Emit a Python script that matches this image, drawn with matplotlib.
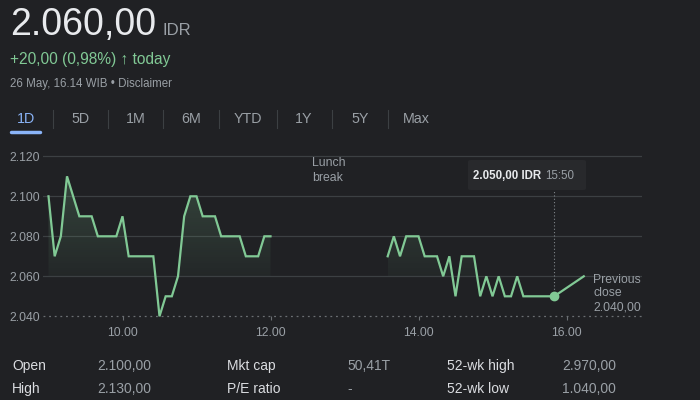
import numpy as np
import matplotlib.pyplot as plt
from matplotlib.lines import Line2D
from matplotlib.patches import FancyBboxPatch
from matplotlib.colors import LinearSegmentedColormap

plt.rcParams['font.family'] = ['Liberation Sans', 'DejaVu Sans']

BG = '#202124'
GREEN = '#81c995'
GRAY = '#9aa0a6'
LIGHT = '#e8eaed'
GRID = '#3c4043'

# intraday prices (IDR)
morning_times = ["09:00", "09:05", "09:10", "09:15", "09:25", "09:35", "09:40", "09:55",
                 "10:00", "10:05", "10:25", "10:30", "10:35", "10:40", "10:45", "10:50",
                 "10:55", "11:00", "11:05", "11:15", "11:20", "11:35", "11:40", "11:50",
                 "11:55", "12:00"]
morning_prices = [2100, 2070, 2080, 2110, 2090, 2090, 2080, 2080,
                  2090, 2070, 2070, 2040, 2050, 2050, 2060, 2090,
                  2100, 2100, 2090, 2090, 2080, 2080, 2070, 2070,
                  2080, 2080]
afternoon_times = ["13:35", "13:40", "13:45", "13:50", "14:00", "14:05", "14:15", "14:20",
                   "14:25", "14:30", "14:35", "14:45", "14:50", "14:55", "15:00", "15:05",
                   "15:10", "15:15", "15:20", "15:25", "15:50", "16:14"]
afternoon_prices = [2070, 2080, 2070, 2080, 2080, 2070, 2070, 2060,
                    2070, 2050, 2070, 2070, 2050, 2060, 2050, 2060,
                    2050, 2050, 2060, 2050, 2050, 2060]
prev_close = 2040
hover_time = "15:50"
hover_price = 2050

y_ticks = [2040, 2060, 2080, 2100, 2120]
y_labels = ["2.040", "2.060", "2.080", "2.100", "2.120"]
x_ticks = [10, 12, 14, 16]
x_labels = ["10.00", "12.00", "14.00", "16.00"]

tabs = ["1D", "5D", "1M", "6M", "YTD", "1Y", "5Y", "Max"]

stats_left = [("Open", "2.100,00"), ("High", "2.130,00")]
stats_mid = [("Mkt cap", "50,41T"), ("P/E ratio", "-")]
stats_right = [("52-wk high", "2.970,00"), ("52-wk low", "1.040,00")]


def hours(ts):
    return np.array([int(t[:2]) + int(t[3:]) / 60 for t in ts])


def px(x, y):
    return x / 700, 1 - y / 400


fig = plt.figure(figsize=(7, 4), dpi=100, facecolor=BG)

# header
fig.text(*px(10, 35), "2.060,00", color=LIGHT, fontsize=27, va='baseline')
fig.text(*px(163, 35), "IDR", color=GRAY, fontsize=12, va='baseline')
fig.text(*px(10, 64), "+20,00 (0,98%) \u2191 today", color=GREEN, fontsize=11.2, va='baseline')
fig.text(*px(10, 87), "26 May, 16.14 WIB \u2022 Disclaimer", color=GRAY, fontsize=8.3, va='baseline')

tab_x = [26, 80, 136, 191, 248, 304, 360, 416]
for i, (t, x) in enumerate(zip(tabs, tab_x)):
    fig.text(*px(x, 119), t, color='#8ab4f8' if i == 0 else GRAY, fontsize=10.3,
             ha='center', va='center')
for sx in [53, 108, 163, 219, 277, 332, 388]:
    fig.add_artist(Line2D([sx / 700, sx / 700], [1 - 110 / 400, 1 - 128 / 400],
                          color=GRID, lw=0.8))
fig.add_artist(Line2D([11 / 700, 40 / 700], [1 - 132 / 400] * 2, color='#8ab4f8',
                      lw=2.5, solid_capstyle='round'))

# chart
ax = fig.add_axes([43 / 700, 1 - 322 / 400, (642 - 43) / 700, (322 - 150) / 400])
ax.set_facecolor(BG)

for yt in y_ticks[1:]:
    ax.axhline(yt, color=GRID, lw=0.9, zorder=1)
ax.axhline(prev_close, color='#6b6f73', lw=0.9, ls=(0, (1.5, 3)), zorder=1)

grad = np.linspace(0, 1, 256).reshape(-1, 1)
cmap = LinearSegmentedColormap.from_list(
    'g', [(0.506, 0.788, 0.584, 0.04), (0.506, 0.788, 0.584, 0.22)])
for ts, ps in [(morning_times, morning_prices), (afternoon_times, afternoon_prices)]:
    x = hours(ts)
    y = np.array(ps)
    ax.plot(x, y, color=GREEN, lw=1.6, zorder=3, solid_joinstyle='miter')
    poly = ax.fill_between(x, y, 2060, color='none', lw=0)
    im = ax.imshow(grad, extent=[x.min(), x.max(), 2060, 2110], origin='lower',
                   cmap=cmap, aspect='auto', zorder=2)
    im.set_clip_path(poly.get_paths()[0], transform=ax.transData)

ax.set_xlim(8.9257, 17.02)
ax.set_ylim(2037.15, 2123.15)

hx = hours([hover_time])[0]
ax.plot([hx, hx], [hover_price, 2118], color='#80868b', lw=0.8, ls=(0, (1, 2)), zorder=2)
ax.plot(hx, hover_price, 'o', color=GREEN, ms=6, zorder=4)

for s in ax.spines.values():
    s.set_visible(False)
ax.spines['bottom'].set_position(('data', prev_close))
ax.set_yticks(y_ticks, y_labels)
ax.set_xticks(x_ticks, x_labels)
ax.tick_params(axis='y', length=0, pad=2, labelcolor=GRAY, labelsize=8.8)
ax.tick_params(axis='x', length=3, width=0.8, color='#6b6f73', pad=5,
               labelcolor=GRAY, labelsize=8.8)

fig.text(*px(312, 170.5), "Lunch\nbreak", color=GRAY, fontsize=8.8, va='center',
         ha='left', multialignment='left', linespacing=1.25)
fig.text(*px(593, 293.5), "Previous\nclose\n2.040,00", color=GRAY, fontsize=8.8,
         ha='left', va='center', multialignment='left', linespacing=1.2)

# tooltip
fig.add_artist(FancyBboxPatch((468 / 700, 1 - 190 / 400), 118 / 700, 30 / 400,
                              boxstyle='round,pad=0,rounding_size=0.004',
                              fc='#28292c', ec='none'))
fig.text(*px(473, 176), "2.050,00 IDR", color=LIGHT, fontsize=8.3, fontweight='bold',
         va='center')
fig.text(*px(545, 176), "15:50", color=GRAY, fontsize=8.3, va='center')

# stats
for col_x, val_x, rows in [(12, 97, stats_left), (227, 347, stats_mid),
                           (447, 562, stats_right)]:
    for (lab, val), ry in zip(rows, [366, 389]):
        fig.text(*px(col_x, ry), lab, color='#dadce0', fontsize=10, va='center')
        fig.text(*px(val_x, ry), val, color=GRAY, fontsize=10, va='center')

fig.savefig('out.png', dpi=100, facecolor=BG)
